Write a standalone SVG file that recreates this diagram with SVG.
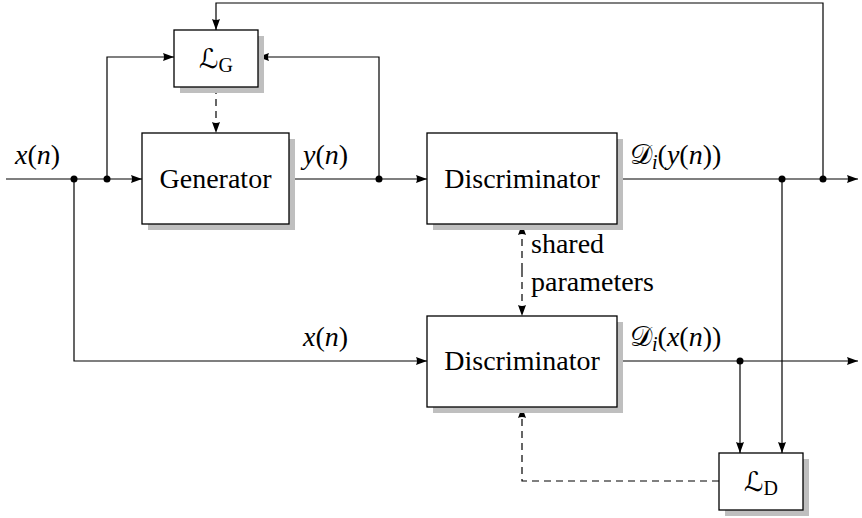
<svg xmlns="http://www.w3.org/2000/svg" width="862" height="518" viewBox="0 0 862 518">
  <style>
    .box { fill: #ffffff; stroke: #000000; stroke-width: 1.3; }
    .shadow { fill: #bfbfbf; stroke: none; }
    .wire { fill: none; stroke: #000000; stroke-width: 1.2; }
    .dash { fill: none; stroke: #000000; stroke-width: 1.2; stroke-dasharray: 7 5; }
    .dot { fill: #000000; }
    text { font-family: "Liberation Serif", "DejaVu Serif", serif; font-size: 28px; fill: #000000; }
    .it { font-style: italic; }
    .cal { font-family: "DejaVu Sans", "DejaVu Serif", serif; font-style: normal; }
    .scr { font-family: "DejaVu Serif", "DejaVu Sans", serif; font-style: normal; }
  </style>
  <defs>
    <marker id="arrow" viewBox="0 0 11 8" refX="11" refY="4" markerWidth="11" markerHeight="8" markerUnits="userSpaceOnUse" orient="auto">
      <path d="M0,0 L11,4 L0,8 Q2,4 0,0 z" fill="#000000"/>
    </marker>
  </defs>

  <!-- connectors -->
  <g id="connectors">
    <!-- input into generator -->
    <path class="wire" d="M6,179 H142" marker-end="url(#arrow)"/>
    <!-- branch to L_G left -->
    <path class="wire" d="M107,179 V57 H174" marker-end="url(#arrow)"/>
    <!-- branch down to lower discriminator -->
    <path class="wire" d="M74,179 V361 H427" marker-end="url(#arrow)"/>
    <!-- generator output into upper discriminator -->
    <path class="wire" d="M289,179 H427" marker-end="url(#arrow)"/>
    <!-- y(n) feedback to L_G right -->
    <path class="wire" d="M379,179 V57 H258" marker-end="url(#arrow)"/>
    <!-- upper discriminator output -->
    <path class="wire" d="M617,179 H858" marker-end="url(#arrow)"/>
    <!-- top loop back to L_G -->
    <path class="wire" d="M823,179 V3 H216 V30" marker-end="url(#arrow)"/>
    <!-- upper output down to L_D -->
    <path class="wire" d="M782,179 V453" marker-end="url(#arrow)"/>
    <!-- lower discriminator output -->
    <path class="wire" d="M617,361 H858" marker-end="url(#arrow)"/>
    <!-- lower output down to L_D -->
    <path class="wire" d="M740,361 V453" marker-end="url(#arrow)"/>
    <!-- L_G updates generator -->
    <path class="dash" d="M216,87 V133" marker-end="url(#arrow)"/>
    <!-- shared parameters between discriminators (two-headed) -->
    <path class="dash" d="M522,270 V224" marker-end="url(#arrow)"/>
    <path class="dash" d="M522,270 V316" marker-end="url(#arrow)"/>
    <!-- L_D updates lower discriminator -->
    <path class="dash" d="M719,481 H522 V407" marker-end="url(#arrow)"/>

    <!-- junction dots -->
    <circle class="dot" cx="74" cy="179" r="3.5"/>
    <circle class="dot" cx="107" cy="179" r="3.5"/>
    <circle class="dot" cx="379" cy="179" r="3.5"/>
    <circle class="dot" cx="782" cy="179" r="3.5"/>
    <circle class="dot" cx="823" cy="179" r="3.5"/>
    <circle class="dot" cx="740" cy="361" r="3.5"/>
  </g>

  <!-- nodes -->
  <g id="loss-g">
    <rect class="shadow" x="180" y="36" width="84" height="57"/>
    <rect class="box" x="174" y="30" width="84" height="57"/>
    <text x="216" y="68" text-anchor="middle"><tspan class="cal" font-size="27">ℒ</tspan><tspan font-size="20" dy="4">G</tspan></text>
  </g>

  <g id="generator">
    <rect class="shadow" x="148" y="139" width="147" height="91"/>
    <rect class="box" x="142" y="133" width="147" height="91"/>
    <text x="215.5" y="188" text-anchor="middle" font-size="28.5">Generator</text>
  </g>

  <g id="discriminator-top">
    <rect class="shadow" x="433" y="139" width="190" height="91"/>
    <rect class="box" x="427" y="133" width="190" height="91"/>
    <text x="522" y="188" text-anchor="middle" font-size="28.5">Discriminator</text>
  </g>

  <g id="discriminator-bottom">
    <rect class="shadow" x="433" y="322" width="190" height="91"/>
    <rect class="box" x="427" y="316" width="190" height="91"/>
    <text x="522" y="370" text-anchor="middle" font-size="28.5">Discriminator</text>
  </g>

  <g id="loss-d">
    <rect class="shadow" x="725" y="459" width="84" height="57"/>
    <rect class="box" x="719" y="453" width="84" height="57"/>
    <text x="761" y="491" text-anchor="middle"><tspan class="cal" font-size="27">ℒ</tspan><tspan font-size="20" dy="4">D</tspan></text>
  </g>

  <!-- signal labels -->
  <g id="labels">
    <text x="15" y="164"><tspan class="it">x</tspan>(<tspan class="it">n</tspan>)</text>
    <text x="303" y="164"><tspan class="it">y</tspan>(<tspan class="it">n</tspan>)</text>
    <text x="630" y="164"><tspan class="scr">𝒟</tspan><tspan class="it" font-size="20" dy="5">i</tspan><tspan dy="-5">(</tspan><tspan class="it">y</tspan>(<tspan class="it">n</tspan>))</text>
    <text x="303" y="346"><tspan class="it">x</tspan>(<tspan class="it">n</tspan>)</text>
    <text x="630" y="346"><tspan class="scr">𝒟</tspan><tspan class="it" font-size="20" dy="5">i</tspan><tspan dy="-5">(</tspan><tspan class="it">x</tspan>(<tspan class="it">n</tspan>))</text>
    <text x="531" y="253" font-size="26">shared</text>
    <text x="531" y="291" font-size="26">parameters</text>
  </g>
</svg>
